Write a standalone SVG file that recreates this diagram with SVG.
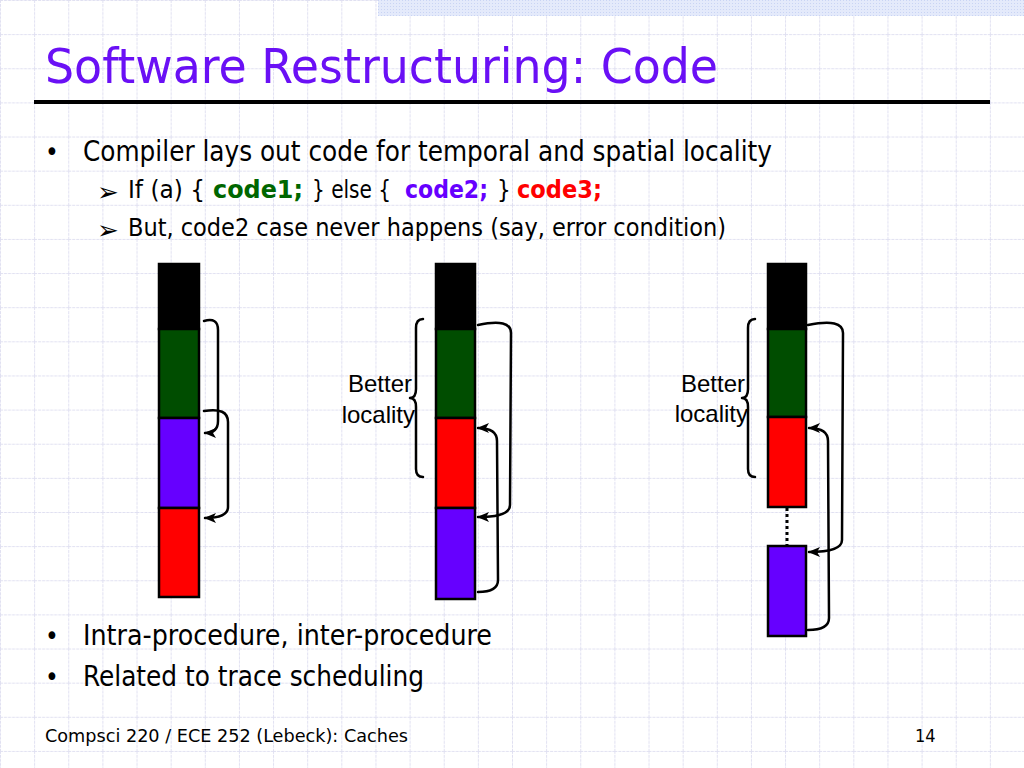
<svg xmlns="http://www.w3.org/2000/svg" width="1024" height="768" viewBox="0 0 1024 768">
<defs>
<pattern id="grid" patternUnits="userSpaceOnUse" x="0" y="0" width="34.1333" height="34.1333">
<path d="M0,0.5 H34.1333 M0.5,0 V34.1333" stroke="#e0e0f1" stroke-width="1" stroke-dasharray="3 1" fill="none"/>
</pattern>
<pattern id="dots" patternUnits="userSpaceOnUse" width="3" height="3">
<rect width="3" height="3" fill="#e4eafb"/>
<rect width="1" height="1" fill="#c9d4f4"/>
</pattern>
<marker id="ah" viewBox="0 0 12 10" refX="11" refY="5" markerWidth="12" markerHeight="10" markerUnits="userSpaceOnUse" orient="auto">
<path d="M0,0 L12,5 L0,10 L3,5 Z" fill="#000"/>
</marker>
<style>
.t{font-family:"DejaVu Sans Condensed","DejaVu Sans",sans-serif;fill:#000}
.lbl{font-family:"Liberation Sans",Arial,sans-serif;font-size:24px;fill:#000}
.blk{stroke:#000;stroke-width:2.5}
.k{fill:#000}.g{fill:#004d00}.p{fill:#6600ff}.r{fill:#ff0000}
.con{fill:none;stroke:#000;stroke-width:2.5;stroke-linecap:round;stroke-linejoin:round}
.arr{marker-end:url(#ah)}
.b{font-weight:bold}
.sb{font-family:"DejaVu Sans",sans-serif;font-size:26px;fill:#000}
</style>
</defs>
<rect width="1024" height="768" fill="#fff"/>
<rect width="1024" height="768" fill="url(#grid)"/>
<rect x="378" y="0" width="646" height="16" fill="url(#dots)"/>

<g id="title">
<text class="t" x="45" y="83" font-size="48" style="fill:#6a10f5" textLength="673" lengthAdjust="spacingAndGlyphs">Software Restructuring: Code</text>
<rect x="34" y="100" width="956" height="4" fill="#000"/>
</g>

<g id="bullets">
<text class="t" x="45" y="161" font-size="26">•</text>
<text class="t" x="83" y="161" font-size="28" textLength="689" lengthAdjust="spacingAndGlyphs">Compiler lays out code for temporal and spatial locality</text>
<text class="sb" x="97" y="201">➢</text>
<text class="t" x="128" y="198" font-size="24" textLength="77" lengthAdjust="spacingAndGlyphs">If (a) {</text>
<text class="t b" x="213" y="198" font-size="24" style="fill:#006600" textLength="90" lengthAdjust="spacingAndGlyphs">code1;</text>
<text class="t" x="312" y="198" font-size="24" textLength="79" lengthAdjust="spacingAndGlyphs">} else {</text>
<text class="t b" x="405" y="198" font-size="24" style="fill:#6600ff" textLength="83" lengthAdjust="spacingAndGlyphs">code2;</text>
<text class="t" x="497" y="198" font-size="24">}</text>
<text class="t b" x="517" y="198" font-size="24" style="fill:#ff0000" textLength="85" lengthAdjust="spacingAndGlyphs">code3;</text>
<text class="sb" x="97" y="239">➢</text>
<text class="t" x="128" y="236" font-size="24" textLength="598" lengthAdjust="spacingAndGlyphs">But, code2 case never happens (say, error condition)</text>
<text class="t" x="45" y="645" font-size="26">•</text>
<text class="t" x="83" y="645" font-size="28" textLength="409" lengthAdjust="spacingAndGlyphs">Intra-procedure, inter-procedure</text>
<text class="t" x="45" y="686" font-size="26">•</text>
<text class="t" x="83" y="686" font-size="28" textLength="341" lengthAdjust="spacingAndGlyphs">Related to trace scheduling</text>
</g>

<g id="footer">
<text class="t" x="45" y="742" font-size="18" textLength="363" lengthAdjust="spacingAndGlyphs">Compsci 220 / ECE 252 (Lebeck): Caches</text>
<text class="t" x="915" y="742" font-size="18">14</text>
</g>

<g id="layout1">
<rect id="l1-pre" class="blk k" x="159" y="264" width="40" height="65"/>
<rect id="l1-code1" class="blk g" x="159" y="329" width="40" height="89"/>
<rect id="l1-code2" class="blk p" x="159" y="418" width="40" height="90"/>
<rect id="l1-code3" class="blk r" x="159" y="508" width="40" height="89"/>
</g>

<g id="layout2">
<rect id="l2-pre" class="blk k" x="436" y="264" width="39" height="65"/>
<rect id="l2-code1" class="blk g" x="436" y="329" width="39" height="89"/>
<rect id="l2-code3" class="blk r" x="436" y="418" width="39" height="90"/>
<rect id="l2-code2" class="blk p" x="436" y="508" width="39" height="91"/>
<path d="M423,319 Q416,319 416,328 L416,389 Q416,398 410,398 Q416,398 416,407 L416,469 Q416,477 423,477" class="con" stroke-width="2"/>
<text class="lbl" x="412" y="392" text-anchor="end">Better</text>
<text class="lbl" x="415" y="423" text-anchor="end">locality</text>
</g>

<g id="layout3">
<rect id="l3-pre" class="blk k" x="768" y="264" width="38" height="65"/>
<rect id="l3-code1" class="blk g" x="768" y="329" width="38" height="88"/>
<rect id="l3-code3" class="blk r" x="768" y="417" width="38" height="90"/>
<rect id="l3-code2" class="blk p" x="768" y="546" width="38" height="90"/>
<path d="M755,319 Q748,319 748,328 L748,389 Q748,398 742,398 Q748,398 748,407 L748,469 Q748,477 755,477" class="con" stroke-width="2"/>
<text class="lbl" x="745" y="392" text-anchor="end">Better</text>
<text class="lbl" x="748" y="422" text-anchor="end">locality</text>
</g>

<g id="connectors">
<path class="con arr" d="M204,321 Q218,317 218,330 L218,421 Q218,433 205,433"/>
<path class="con arr" d="M204,411 Q228,407 228,422 L228,507 Q228,518 205,518"/>
<path class="con arr" d="M478,325 Q511,318 511,333 L510,505 Q510,517 478,517"/>
<path class="con arr" d="M478,592 Q498,592 498,580 L497,441 Q497,428 478,428"/>
<path class="con arr" d="M808,325 Q843,318 843,333 L842,540 Q842,552 809,552"/>
<path class="con arr" d="M808,630 Q829,630 829,618 L828,441 Q828,428 809,428"/>
<path d="M787,508 V545" fill="none" stroke="#000" stroke-width="3" stroke-dasharray="3 3"/>
</g>
</svg>
